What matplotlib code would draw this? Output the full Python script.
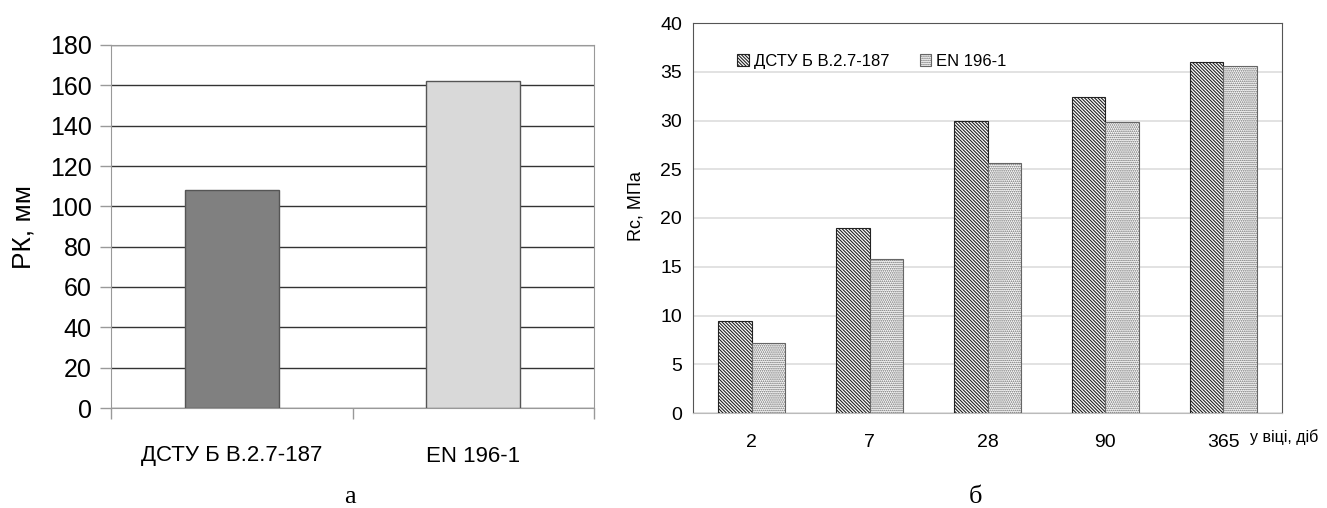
import matplotlib.pyplot as plt
import numpy as np

# left panel (а)
methods = ["ДСТУ Б В.2.7-187", "EN 196-1"]
rk_mm = [108, 162]
rk_colors = ["#808080", "#d9d9d9"]

# right panel (б)
ages = ["2", "7", "28", "90", "365"]
rc_dstu = [9.4, 19.0, 30.0, 32.4, 36.0]
rc_en = [7.2, 15.8, 25.6, 29.8, 35.6]

plt.rcParams["font.family"] = ["Liberation Sans", "DejaVu Sans"]
plt.rcParams["hatch.linewidth"] = 0.8

W, H = 1327, 508
fig = plt.figure(figsize=(W / 100, H / 100), dpi=100)

# ---- а ----
ax1 = fig.add_axes([111 / W, 1 - 408 / H, (594 - 111) / W, (408 - 45) / H])
x1 = np.arange(len(methods))
ax1.bar(x1, rk_mm, width=0.39, color=rk_colors, edgecolor="#555555", linewidth=1, zorder=3)
ax1.set_xlim(-0.5, 1.5)
ax1.set_ylim(0, 180)
ax1.set_yticks(np.arange(0, 181, 20))
ax1.yaxis.grid(True, color="#333333", linewidth=1, zorder=0)
ax1.set_axisbelow(True)
for s in ax1.spines.values():
    s.set_color("#999999")
ax1.tick_params(axis="y", length=8, width=1, color="#999999", labelsize=18, pad=6)
ax1.set_xticks(x1)
ax1.set_xticklabels(methods)
ax1.tick_params(axis="x", which="major", length=0, labelsize=16, pad=27)
ax1.set_xticks([-0.5, 0.5, 1.5], minor=True)
ax1.tick_params(axis="x", which="minor", length=8, width=1, color="#999999")
ax1.set_ylabel("РК, мм", fontsize=19, labelpad=10)

# ---- б ----
ax2 = fig.add_axes([693 / W, 1 - 413 / H, (1282 - 693) / W, (413 - 23) / H])
x2 = np.arange(len(ages))
bw = 0.285
ax2.bar(x2 - bw / 2, rc_dstu, width=bw, color="white", edgecolor="#222222",
        hatch="\\\\\\\\\\\\\\\\\\\\", linewidth=0.8, zorder=3, label="ДСТУ Б В.2.7-187")
ax2.bar(x2 + bw / 2, rc_en, width=bw, color="white", edgecolor="#666666",
        hatch="........", linewidth=0.8, zorder=3, label="EN 196-1")
ax2.set_xlim(-0.5, 4.5)
ax2.set_ylim(0, 40)
ax2.set_yticks(np.arange(0, 41, 5))
ax2.yaxis.grid(True, color="#dddddd", linewidth=1.2, zorder=0)
ax2.set_axisbelow(True)
for side in ["left", "top", "right"]:
    ax2.spines[side].set_color("#555555")
ax2.spines["bottom"].set_color("#bbbbbb")
ax2.tick_params(axis="y", length=0, labelsize=14, pad=8)
ax2.set_xticks(x2)
ax2.set_xticklabels(ages)
ax2.tick_params(axis="x", length=0, labelsize=14, pad=15)
ax2.set_ylabel("Rc, МПа", fontsize=13)
ax2.yaxis.set_label_coords(-0.083, 0.53)
ax2.legend(loc="upper left", bbox_to_anchor=(0.05, 0.96), ncol=2, frameon=False,
           fontsize=12, handlelength=0.7, handleheight=0.7, handletextpad=0.3,
           columnspacing=1.8)

fig.text(1250 / W, 1 - 437 / H, "у віці, діб", fontsize=11.5, va="center", ha="left")

# captions
fig.text(350 / W, 1 - 497 / H, "а", fontsize=19, family="Liberation Serif", ha="center", va="center")
fig.text(975 / W, 1 - 497 / H, "б", fontsize=19, family="Liberation Serif", ha="center", va="center")

fig.savefig("out.png", dpi=100)
